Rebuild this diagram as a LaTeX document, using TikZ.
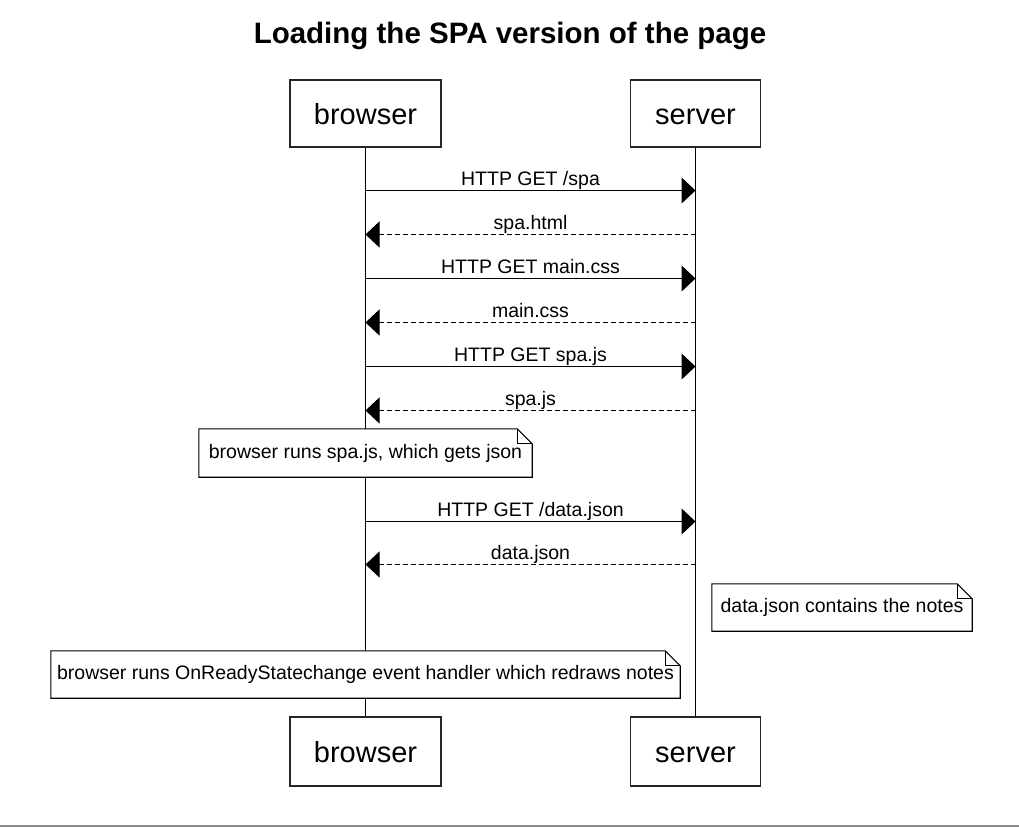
\documentclass[tikz,border=0pt]{standalone}
\usepackage{fontspec}
\setmainfont{Liberation Sans}
\usetikzlibrary{arrows.meta}
\newcommand\notefold[1]{%
  \draw[noteline] (#1.north west) -- ([xshift=-15pt]#1.north east) -- ([yshift=-15pt]#1.north east) -- (#1.south east) -- (#1.south west) -- cycle;
  \draw[noteline] ([xshift=-15pt]#1.north east) |- ([yshift=-15pt]#1.north east);}
\begin{document}
\begin{tikzpicture}[x=1pt,y=-1pt,
  titlefont/.style={font=\fontsize{29.5}{32}\selectfont\bfseries},
  participant/.style={draw=black!85, line width=1.3pt, fill=white, inner sep=0pt,
    font=\fontsize{29}{32}\selectfont, text height=21pt, text depth=0pt},
  lifeline/.style={line width=1pt},
  msg/.style={line width=1pt, -{Triangle[length=14pt,width=26pt]}},
  ret/.style={msg, dash pattern=on 5pt off 3pt},
  lbl/.style={font=\fontsize{19.5}{22}\selectfont, anchor=base, yshift=5.5pt, inner sep=0pt},
  notebox/.style={fill=white, inner sep=0pt, font=\fontsize{19.5}{22}\selectfont},
  noteline/.style={line width=1.1pt, line join=miter}
]
\useasboundingbox (0,0) rectangle (1019,827);
\fill[white] (0,0) rectangle (1019,827);

\node[titlefont, anchor=base] (title) at (510,43) {Loading the SPA version of the page};

\node[participant, minimum width=151pt, minimum height=67pt] (btop) at (365.5,113.5) {browser};
\node[participant, minimum width=130pt, minimum height=67pt] (stop) at (695.5,113.5) {server};
\node[participant, minimum width=151pt, minimum height=69pt] (bbot) at (365.5,751.5) {browser};
\node[participant, minimum width=130pt, minimum height=69pt] (sbot) at (695.5,751.5) {server};

\draw[lifeline] (btop.south) -- (bbot.north);
\draw[lifeline] (stop.south) -- (sbot.north);

\draw[msg] (btop.south |- 0,190.5) -- (stop.south |- 0,190.5) node[midway, lbl] {HTTP GET /spa};
\draw[ret] (stop.south |- 0,234.5) -- (btop.south |- 0,234.5) node[midway, lbl] {spa.html};
\draw[msg] (btop.south |- 0,278.5) -- (stop.south |- 0,278.5) node[midway, lbl] {HTTP GET main.css};
\draw[ret] (stop.south |- 0,322.5) -- (btop.south |- 0,322.5) node[midway, lbl] {main.css};
\draw[msg] (btop.south |- 0,366.5) -- (stop.south |- 0,366.5) node[midway, lbl] {HTTP GET spa.js};
\draw[ret] (stop.south |- 0,410.5) -- (btop.south |- 0,410.5) node[midway, lbl] {spa.js};

\node[notebox, minimum width=333pt, minimum height=48pt] (n1) at (365.5,453) {browser runs spa.js, which gets json};
\notefold{n1}

\draw[msg] (btop.south |- 0,521.5) -- (stop.south |- 0,521.5) node[midway, lbl] {HTTP GET /data.json};
\draw[ret] (stop.south |- 0,564.5) -- (btop.south |- 0,564.5) node[midway, lbl] {data.json};

\node[notebox, minimum width=260pt, minimum height=47pt] (n2) at (842,607.5) {data.json contains the notes};
\notefold{n2}

\node[notebox, minimum width=629pt, minimum height=47pt] (n3) at (365.5,674.5) {browser runs OnReadyStatechange event handler which redraws notes};
\notefold{n3}

\draw[black!45, line width=2pt] (0,826) -- (1019,826);
\end{tikzpicture}
\end{document}
